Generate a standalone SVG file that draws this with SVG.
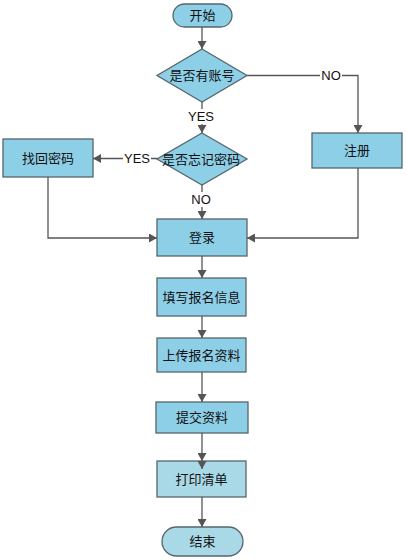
<svg xmlns="http://www.w3.org/2000/svg" width="406" height="560" viewBox="0 0 406 560">
<style>
.box{fill:#8ecfe8;stroke:#56666c;stroke-width:1.3}
.lite{fill:#a9d9e6;stroke:#56666c;stroke-width:1.3}
.t{font-family:"Liberation Sans","Noto Sans CJK SC",sans-serif;font-size:13px;fill:#111;text-anchor:middle;dominant-baseline:central}
.c{fill:none;stroke:#555;stroke-width:1.3}
.a{marker-end:url(#arr)}
.lbl{fill:#fff}
</style>
<defs>
<marker id="arr" markerUnits="userSpaceOnUse" markerWidth="9" markerHeight="9" refX="8" refY="4.5" orient="auto">
<path d="M0,0 L8,4.5 L0,9 z" fill="#555"/>
</marker>
</defs>
<rect width="406" height="560" fill="#fff"/>
<g id="start"><rect class="box" x="173" y="4" width="59" height="23" rx="11.5"/><text class="t" x="202.5" y="15.5">开始</text></g>
<g id="hasAccount"><polygon class="box" points="202,49 247,75.5 202,102 157,75.5"/><text class="t" x="202" y="75.5">是否有账号</text></g>
<g id="forgot"><polygon class="box" points="202,133 247,159 202,185 157,159"/><text class="t" x="201" y="159">是否忘记密码</text></g>
<g id="register"><rect class="box" x="312" y="133" width="90" height="35"/><text class="t" x="357" y="150.5">注册</text></g>
<g id="recover"><rect class="box" x="3" y="139" width="90" height="38"/><text class="t" x="48" y="158">找回密码</text></g>
<g id="login"><rect class="box" x="157" y="219" width="90" height="37"/><text class="t" x="202" y="237.5">登录</text></g>
<g id="fillInfo"><rect class="box" x="157" y="278" width="89" height="38"/><text class="t" x="201.5" y="297">填写报名信息</text></g>
<g id="upload"><rect class="box" x="157" y="338" width="89" height="34"/><text class="t" x="201.5" y="355">上传报名资料</text></g>
<g id="submit"><rect class="box" x="156" y="402" width="92" height="31"/><text class="t" x="202" y="417.5">提交资料</text></g>
<g id="print"><rect class="lite" x="157" y="461" width="89" height="36"/><text class="t" x="201.5" y="479">打印清单</text></g>
<g id="end"><rect class="lite" x="162" y="527" width="81" height="29" rx="14.5"/><text class="t" x="202.5" y="541.5">结束</text></g>
<g id="connectors">
<line class="c a" x1="202" y1="27" x2="202" y2="49"/>
<line class="c a" x1="202" y1="102" x2="202" y2="133"/>
<polyline class="c a" points="247,75.5 358,75.5 358,133"/>
<line class="c a" x1="157" y1="158.5" x2="93" y2="158.5"/>
<line class="c a" x1="202" y1="185" x2="202" y2="219"/>
<polyline class="c a" points="48,177 48,238 157,238"/>
<polyline class="c a" points="358,168 358,238 247,238"/>
<line class="c a" x1="202" y1="256" x2="202" y2="278"/>
<line class="c a" x1="202" y1="316" x2="202" y2="338"/>
<line class="c a" x1="202" y1="372" x2="202" y2="402"/>
<polyline class="c a" points="202,433 202,461 202,469" style="marker-mid:url(#arr)"/>
<line class="c a" x1="202" y1="497" x2="202" y2="527"/>
<rect class="lbl" x="187" y="109" width="29" height="15"/><text class="t" x="201" y="116.5">YES</text>
<rect class="lbl" x="320" y="68" width="22" height="15"/><text class="t" x="331" y="75.5">NO</text>
<rect class="lbl" x="123" y="151" width="28" height="15"/><text class="t" x="137" y="158">YES</text>
<rect class="lbl" x="190" y="192" width="22" height="15"/><text class="t" x="201" y="199">NO</text>
</g>
</svg>
